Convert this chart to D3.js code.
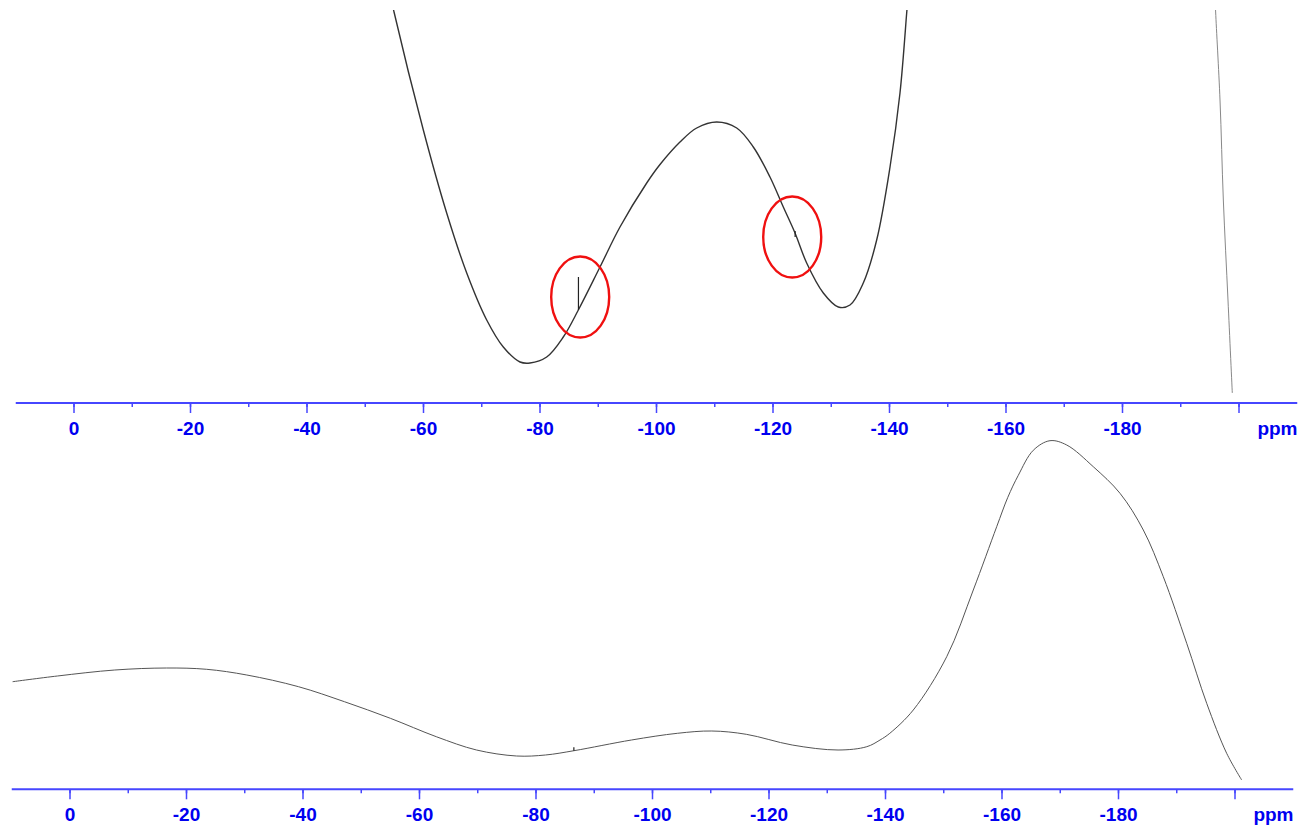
<!DOCTYPE html>
<html>
<head>
<meta charset="utf-8">
<script src="https://cdn.jsdelivr.net/npm/d3@7"></script>
<style>
  body { margin: 0; background: #fff; }
  svg { display: block; }
  .tick-label { font-family: "Liberation Sans", Arial, sans-serif; font-weight: bold; font-size: 19px; fill: #0000f0; }
</style>
</head>
<body>
<svg width="1299" height="827"></svg>
<script>
// ---- data (ppm, intensity in arbitrary units) ----
var topPpm = [-54.42, -54.94, -59.97, -63.98, -67.42, -70.85, -73.70, -76.57, -78.28, -81.15, -84.00, -86.58,
  -90.30, -93.73, -98.32, -100.60, -104.03, -106.90, -110.34, -113.77, -116.62, -119.48, -121.77, -123.78,
  -125.78, -128.64, -131.21, -133.22, -135.50, -137.80, -140.09, -141.80, -142.95, -143.2];
var topInt = [405, 391, 273, 190, 130, 83, 56, 41, 40, 46, 66, 93,
  136, 176, 220, 238.5, 261, 275, 281, 275, 256, 226, 196, 170,
  140, 110, 96, 98, 120, 163, 236, 310, 390, 408];

var topTailPpm = [-195.9, -195.99, -196.74, -197.31, -198.11, -198.85];
var topTailInt = [405, 391, 303, 203, 103, 10];

// small artefact spikes: position, base, tip
var topSpikePpm = [-86.6, -123.8];
var topSpikeBase = [93, 166];
var topSpikeTip = [126, 172];

// annotation circles around the artefacts
var markPpm = [-86.9, -123.3];
var markInt = [106, 166];

var botPpm = [9.85, 2.16, -7.69, -16.57, -23.47, -30.35, -39.23, -47.11, -55.00, -62.88, -69.79, -76.67,
  -81.61, -86.52, -96.39, -104.27, -110.18, -116.10, -123.98, -131.85, -136.79, -139.06, -140.74, -144.77,
  -150.51, -155.07, -159.09, -161.0, -162.8, -165.37, -168.24, -171.11, -175.67, -180.26, -184.26, -187.69,
  -191.71, -195.14, -198.57, -201.15];
var botInt = [107.6, 113.3, 119.3, 121.3, 120, 114.3, 102.6, 87.6, 71, 52.6, 39.3, 33.3,
  34.3, 38.6, 49.3, 56, 58.3, 55, 44.3, 39.3, 42.6, 49.3, 56, 79.3,
  132.6, 199.3, 262.6, 292, 314, 339, 348.6, 344.3, 322.6, 296, 259.3, 212.6,
  146, 86, 36, 9.3];
var botSpikePpm = [-86.5];
var botSpikeBase = [38.6];
var botSpikeTip = [42];

var majorTicks = [0, -20, -40, -60, -80, -100, -120, -140, -160, -180, -200];
var minorTicks = [0, -10, -20, -30, -40, -50, -60, -70, -80, -90, -100, -110, -120, -130, -140, -150, -160, -170, -180, -190, -200];
var tickLabels = ["0", "-20", "-40", "-60", "-80", "-100", "-120", "-140", "-160", "-180", ""];

var svg = d3.select("svg");
var axisColor = "#4646ff";

function zip(a, b) { return a.map(function(v, i) { return [v, b[i]]; }); }

function drawPanel(opts) {
  var x = d3.scaleLinear().domain([10, -210]).range([opts.x0, opts.x1]);
  var y = d3.scaleLinear().domain([0, 400]).range([opts.base, opts.base - 400]);
  var g = svg.append("g");

  var clipId = "clip" + opts.id;
  svg.append("clipPath").attr("id", clipId)
    .append("rect").attr("x", 0).attr("y", opts.top).attr("width", 1299).attr("height", opts.base - opts.top);

  var line = d3.line()
    .x(function(d) { return x(d[0]); })
    .y(function(d) { return y(d[1]); })
    .curve(d3.curveCatmullRom.alpha(0.5));

  var plot = g.append("g").attr("clip-path", "url(#" + clipId + ")");
  opts.series.forEach(function(s) {
    plot.append("path")
      .datum(zip(s.ppm, s.val))
      .attr("d", line)
      .attr("fill", "none")
      .attr("stroke", s.color)
      .attr("stroke-width", s.width);
  });
  opts.spikes.ppm.forEach(function(p, i) {
    plot.append("line")
      .attr("x1", x(p)).attr("x2", x(p))
      .attr("y1", y(opts.spikes.base[i])).attr("y2", y(opts.spikes.tip[i]))
      .attr("stroke", "#222").attr("stroke-width", 1.2);
  });

  if (opts.marks) {
    opts.marks.ppm.forEach(function(p, i) {
      g.append("ellipse")
        .attr("cx", x(p)).attr("cy", y(opts.marks.val[i]))
        .attr("rx", 29).attr("ry", 40.5)
        .attr("fill", "none").attr("stroke", "#f01010").attr("stroke-width", 2.4);
    });
  }

  // axis
  var ax = g.append("g").attr("transform", "translate(0," + opts.base + ")");
  ax.append("line")
    .attr("x1", x(10)).attr("x2", x(-210))
    .attr("stroke", axisColor).attr("stroke-width", 2);
  ax.selectAll("line.minor").data(minorTicks).enter().append("line")
    .attr("class", "minor")
    .attr("x1", function(d) { return x(d); }).attr("x2", function(d) { return x(d); })
    .attr("y1", 0).attr("y2", 4)
    .attr("stroke", axisColor).attr("stroke-width", 1.5);
  ax.selectAll("line.major").data(majorTicks).enter().append("line")
    .attr("class", "major")
    .attr("x1", function(d) { return x(d); }).attr("x2", function(d) { return x(d); })
    .attr("y1", 0).attr("y2", 10)
    .attr("stroke", axisColor).attr("stroke-width", 1.5);
  ax.selectAll("text.tick-label").data(majorTicks).enter().append("text")
    .attr("class", "tick-label")
    .attr("x", function(d) { return x(d); })
    .attr("y", opts.labelY)
    .attr("text-anchor", "middle")
    .text(function(d, i) { return tickLabels[i]; });
  ax.append("text")
    .attr("class", "tick-label")
    .attr("x", x(-206.6))
    .attr("y", opts.labelY)
    .attr("text-anchor", "middle")
    .text("ppm");
}

drawPanel({
  id: "top", x0: 15.75, x1: 1297.25, base: 403, top: 10, labelY: 32,
  series: [
    { ppm: topPpm, val: topInt, color: "#333", width: 1.4 },
    { ppm: topTailPpm, val: topTailInt, color: "#888", width: 1 }
  ],
  spikes: { ppm: topSpikePpm, base: topSpikeBase, tip: topSpikeTip },
  marks: { ppm: markPpm, val: markInt }
});

drawPanel({
  id: "bot", x0: 11.75, x1: 1293.25, base: 789.3, top: 420, labelY: 31.5,
  series: [
    { ppm: botPpm, val: botInt, color: "#555", width: 1 }
  ],
  spikes: { ppm: botSpikePpm, base: botSpikeBase, tip: botSpikeTip }
});
</script>
</body>
</html>
